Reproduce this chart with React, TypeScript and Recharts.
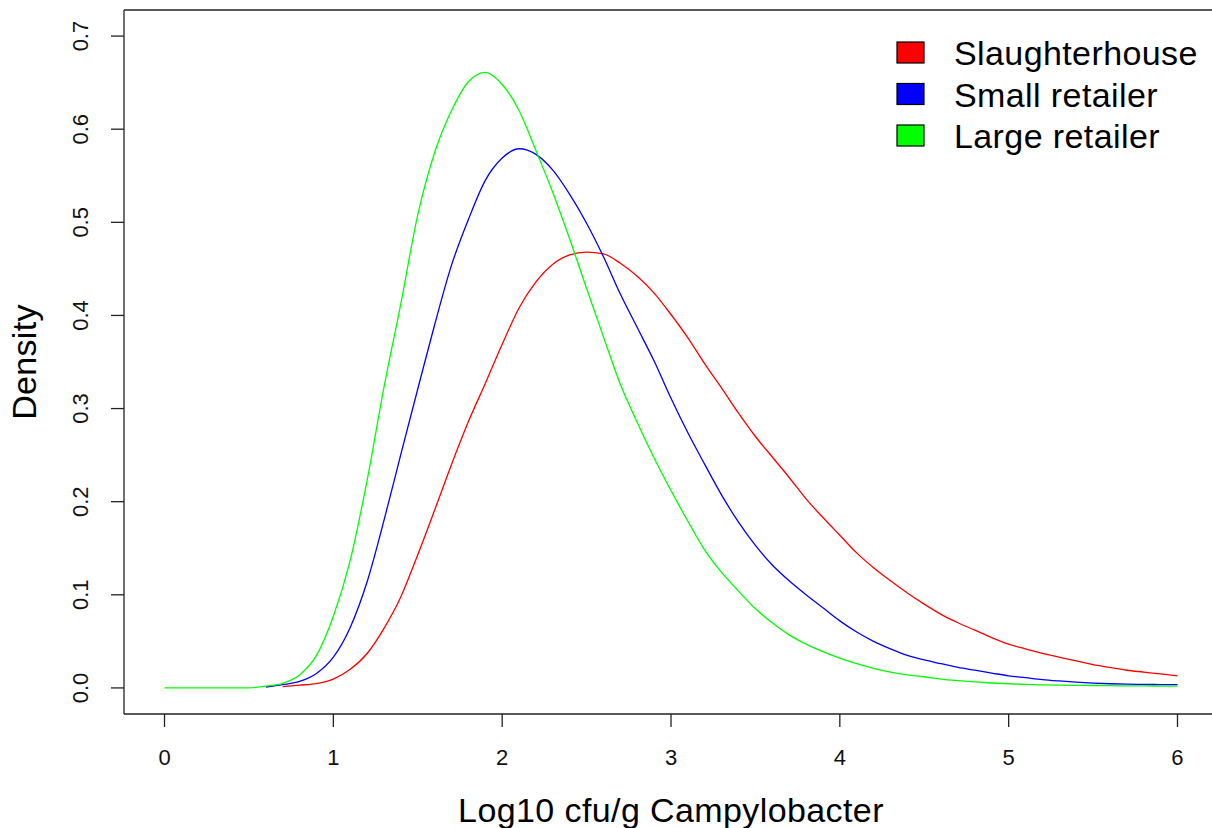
import React from 'react';
import { LineChart, Line, XAxis, YAxis, ReferenceLine } from 'recharts';

// log10 cfu/g grid (0 to 6, step 0.1)
const logCounts = [
  0.0, 0.1, 0.2, 0.3, 0.4, 0.5, 0.6, 0.7, 0.8, 0.9,
  1.0, 1.1, 1.2, 1.3, 1.4, 1.5, 1.6, 1.7, 1.8, 1.9,
  2.0, 2.1, 2.2, 2.3, 2.4, 2.5, 2.6, 2.7, 2.8, 2.9,
  3.0, 3.1, 3.2, 3.3, 3.4, 3.5, 3.6, 3.7, 3.8, 3.9,
  4.0, 4.1, 4.2, 4.3, 4.4, 4.5, 4.6, 4.7, 4.8, 4.9,
  5.0, 5.1, 5.2, 5.3, 5.4, 5.5, 5.6, 5.7, 5.8, 5.9,
  6.0,
];

const slaughterhouse = [
  null, null, null, null, null, null, null, 0.0015, 0.003, 0.0046,
  0.0095, 0.020, 0.037, 0.064, 0.098, 0.143, 0.191, 0.240, 0.286, 0.327,
  0.369, 0.408, 0.436, 0.455, 0.465, 0.468, 0.466, 0.456, 0.442, 0.424,
  0.401, 0.376, 0.348, 0.322, 0.295, 0.270, 0.248, 0.226, 0.203, 0.183,
  0.164, 0.145, 0.129, 0.115, 0.102, 0.090, 0.079, 0.070, 0.062, 0.054,
  0.047, 0.042, 0.037, 0.033, 0.029, 0.025, 0.022, 0.019, 0.017, 0.015,
  0.013,
];

const smallRetailer = [
  null, null, null, null, null, null, 0.001, 0.0035, 0.007, 0.0155,
  0.033, 0.065, 0.114, 0.180, 0.251, 0.321, 0.390, 0.454, 0.503, 0.545,
  0.569, 0.579, 0.573, 0.556, 0.530, 0.499, 0.463, 0.423, 0.387, 0.351,
  0.311, 0.274, 0.240, 0.207, 0.178, 0.153, 0.132, 0.115, 0.100, 0.086,
  0.072, 0.060, 0.050, 0.042, 0.035, 0.030, 0.026, 0.022, 0.019, 0.016,
  0.013, 0.011, 0.0090, 0.0075, 0.0062, 0.0052, 0.0045, 0.0041, 0.0038, 0.0036,
  0.0035,
];

const largeRetailer = [
  0, 0, 0, 0, 0, 0, 0.002, 0.005, 0.014, 0.035,
  0.077, 0.137, 0.223, 0.323, 0.413, 0.508, 0.575, 0.620, 0.651, 0.661,
  0.648, 0.620, 0.577, 0.532, 0.482, 0.429, 0.377, 0.326, 0.285, 0.247,
  0.212, 0.179, 0.148, 0.124, 0.104, 0.085, 0.070, 0.057, 0.047, 0.039,
  0.032, 0.026, 0.021, 0.017, 0.014, 0.012, 0.0095, 0.0078, 0.0064, 0.0053,
  0.0045, 0.0038, 0.0033, 0.003, 0.0028, 0.0026, 0.0024, 0.0022, 0.0021, 0.002,
  0.0019,
];

const xTicks = [0, 1, 2, 3, 4, 5, 6];
const yTicks = [0, 0.1, 0.2, 0.3, 0.4, 0.5, 0.6, 0.7];

const seriesNames = ['Slaughterhouse', 'Small retailer', 'Large retailer'];
const seriesKeys = ['slaughterhouse', 'small', 'large'];
const seriesColors = ['#ff0000', '#0000ff', '#00ff00'];

const data = logCounts.map((x, i) => ({
  x,
  slaughterhouse: slaughterhouse[i],
  small: smallRetailer[i],
  large: largeRetailer[i],
}));

const FONT = '"Liberation Sans", Arial, sans-serif';
const AXIS = '#222';

const XTick = (props: any) => {
  const { x, payload } = props;
  return (
    <text x={x} y={765} textAnchor="middle" style={{ fontSize: 22, fontFamily: FONT }} fill="#111">
      {payload.value}
    </text>
  );
};

const YTick = (props: any) => {
  const { y, payload } = props;
  return (
    <text x={88} y={y} transform={`rotate(-90 88 ${y})`} textAnchor="middle" style={{ fontSize: 22, fontFamily: FONT }} fill="#111">
      {payload.value.toFixed(1)}
    </text>
  );
};

export default function App() {
  return (
    <div style={{ position: 'absolute', left: 0, top: 0, width: 1212, height: 828, overflow: 'hidden', background: '#fff' }}>
      <LineChart width={1220} height={828} data={data} margin={{ top: 10, right: 2, bottom: 0, left: 0 }}>
        <XAxis
          dataKey="x"
          type="number"
          domain={[-0.24, 6.24]}
          ticks={xTicks}
          allowDataOverflow
          height={114}
          stroke={AXIS}
          strokeWidth={1.3}
          tickSize={13}
          tick={(p: any) => <XTick {...p} />}
        />
        <YAxis
          type="number"
          domain={[-0.028, 0.728]}
          ticks={yTicks}
          allowDataOverflow
          width={124}
          stroke={AXIS}
          strokeWidth={1.3}
          tickSize={13}
          tick={(p: any) => <YTick {...p} />}
        />
        <ReferenceLine y={0.728} stroke={AXIS} strokeWidth={1.3} />
        {seriesKeys.map((key, i) => (
          <Line
            key={key}
            dataKey={key}
            name={seriesNames[i]}
            type="monotone"
            stroke={seriesColors[i]}
            strokeWidth={1.3}
            dot={false}
            activeDot={false}
            isAnimationActive={false}
          />
        ))}
      </LineChart>
      <svg width={1212} height={828} style={{ position: 'absolute', left: 0, top: 0, pointerEvents: 'none' }}>
        <text x={36} y={362} transform="rotate(-90 36 362)" textAnchor="middle" style={{ fontSize: 34, fontFamily: FONT }} letterSpacing={0.3} fill="#000">
          Density
        </text>
        <text x={671} y={822} textAnchor="middle" style={{ fontSize: 34, fontFamily: FONT }} letterSpacing={0.4} fill="#000">
          Log10 cfu/g Campylobacter
        </text>
        {seriesNames.map((name, i) => (
          <g key={name}>
            <rect x={897} y={42 + i * 41.5} width={27} height={21} fill={seriesColors[i]} stroke="#000" strokeWidth={1.2} />
            <text x={954} y={65 + i * 41.5} style={{ fontSize: 34, fontFamily: FONT }} letterSpacing={0.4} fill="#000">
              {name}
            </text>
          </g>
        ))}
      </svg>
    </div>
  );
}
